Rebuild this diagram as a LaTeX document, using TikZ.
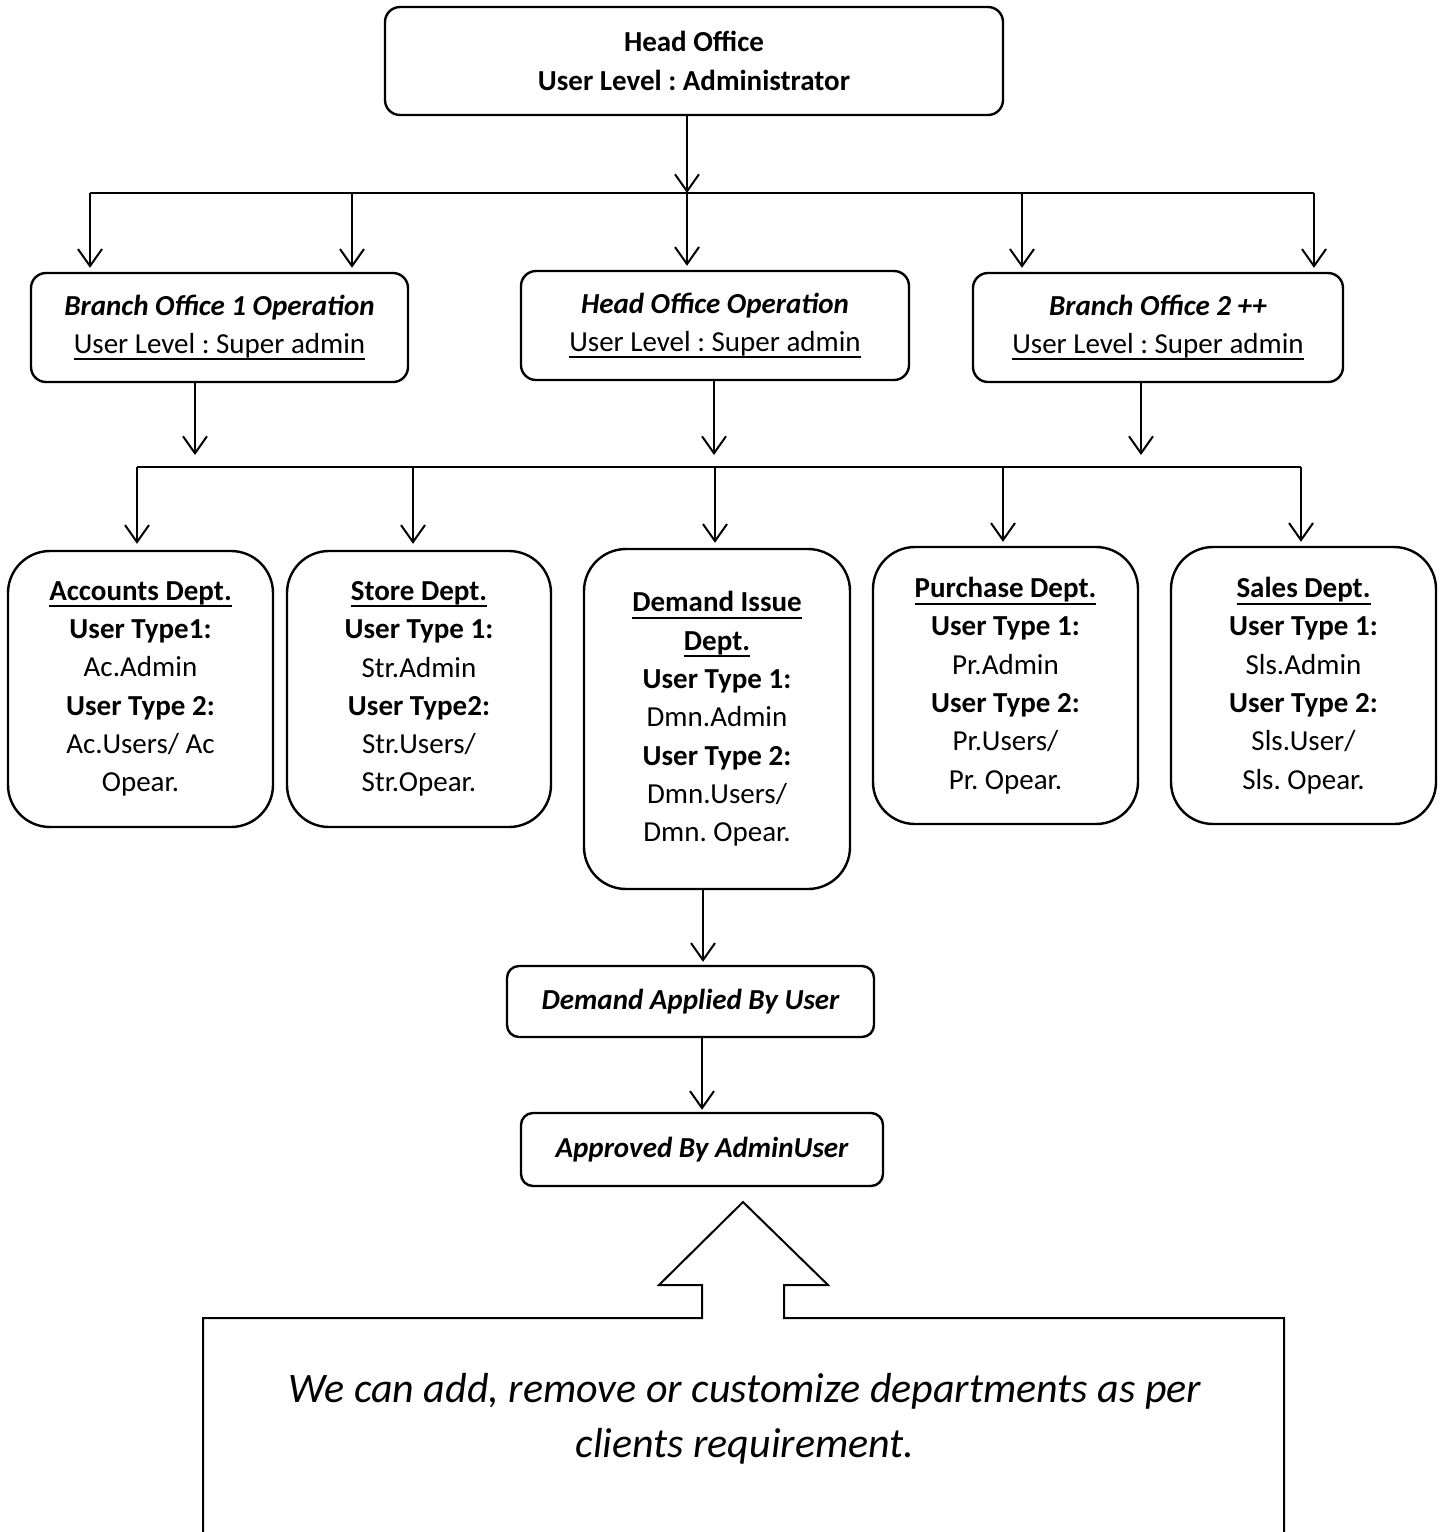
\documentclass[tikz,border=0pt]{standalone}
\usepackage{fontspec}
\setmainfont{Carlito}
\usetikzlibrary{arrows.meta,calc}
\newcommand{\fs}{\fontsize{29}{38.3}\selectfont\frenchspacing}
\newcommand{\myul}[1]{{\setbox0=\hbox{#1}\leavevmode\rlap{\vrule width \wd0 height -5pt depth 7pt}\box0}}
\begin{document}
\frenchspacing
\begin{tikzpicture}[x=1pt,y=-1pt,
  every node/.style={font=\fs},
  box/.style={draw, line width=2.4pt, rounded corners=15pt, align=center, inner sep=0pt},
  dept/.style={box, rounded corners=42pt, minimum width=265pt, minimum height=276pt},
  flowbox/.style={draw, line width=2.4pt, rounded corners=12pt, inner sep=0pt, font=\bfseries\itshape\fs},
  arr/.style={line width=2pt, -{Straight Barb[length=17pt,width=24pt]}},
  ln/.style={line width=2pt}]
\useasboundingbox (0,0) rectangle (1443,1532);
\fill[white] (0,0) rectangle (1443,1532);

% top level
\node[box, minimum width=618pt, minimum height=108pt, font=\bfseries\fs] (ho) at (694,61) {Head Office\\User Level : Administrator};

% branch level
\node[box, minimum width=377pt, minimum height=109pt] (b1) at (219.5,327.5) {\textbf{\textit{Branch Office 1 Operation}}\\\myul{User Level : Super admin}};
\node[box, minimum width=388pt, minimum height=109pt] (hoo) at (715,325.5) {\textbf{\textit{Head Office Operation}}\\\myul{User Level : Super admin}};
\node[box, minimum width=370pt, minimum height=109pt] (b2) at (1158,327.5) {\textbf{\textit{Branch Office 2 ++}}\\\myul{User Level : Super admin}};

% departments
\node[dept] (acc) at (140.5,689) {\myul{\textbf{Accounts Dept.}}\\\textbf{User Type1:}\\Ac.Admin\\\textbf{User Type 2:}\\Ac.Users/ Ac\\Opear.};
\node[dept, minimum width=264pt] (str) at (419,689) {\myul{\textbf{Store Dept.}}\\\textbf{User Type 1:}\\Str.Admin\\\textbf{User Type2:}\\Str.Users/\\Str.Opear.};
\node[dept, minimum width=266pt, minimum height=340pt] (dem) at (717,719) {\myul{\textbf{Demand Issue}}\\\myul{\textbf{Dept.}}\\\textbf{User Type 1:}\\Dmn.Admin\\\textbf{User Type 2:}\\Dmn.Users/\\Dmn. Opear.};
\node[dept, minimum height=277pt] (pur) at (1005.5,685.5) {\myul{\textbf{Purchase Dept.}}\\\textbf{User Type 1:}\\Pr.Admin\\\textbf{User Type 2:}\\Pr.Users/\\Pr. Opear.};
\node[dept, minimum height=277pt] (sal) at (1303.5,685.5) {\myul{\textbf{Sales Dept.}}\\\textbf{User Type 1:}\\Sls.Admin\\\textbf{User Type 2:}\\Sls.User/\\Sls. Opear.};

% flow
\node[flowbox, minimum width=367pt, minimum height=71pt] (da) at (690.5,1001.5) {Demand Applied By User\hspace{17pt}};
\node[flowbox, minimum width=362pt, minimum height=73pt] (ap) at (702,1149.5) {Approved By AdminUser\hspace{16pt}};

% callout
\draw[line width=2pt] (203,1545) -- (203,1318) -- (702,1318) -- (702,1285) -- (659,1285) -- (743,1202) -- (828,1285) -- (784,1285) -- (784,1318) -- (1284,1318) -- (1284,1545);
\node[font=\itshape\fontsize{42}{55}\selectfont, align=center] (note) at (745,1419) {We can add, remove or customize departments as per\\clients requirement.};

% connectors top tier
\coordinate (t1) at (90,193);
\coordinate (t2) at (352,193);
\coordinate (t3) at (687,193);
\coordinate (t4) at (1022,193);
\coordinate (t5) at (1314,193);
\draw[arr] (ho.south -| t3) -- (t3);
\draw[ln] (t1) -- (t5);
\draw[arr, shorten >=4pt] (t1) -- (t1 |- b1.north);
\draw[arr, shorten >=4pt] (t2) -- (t2 |- b1.north);
\draw[arr, shorten >=4pt] (t3) -- (t3 |- hoo.north);
\draw[arr, shorten >=4pt] (t4) -- (t4 |- b2.north);
\draw[arr, shorten >=4pt] (t5) -- (t5 |- b2.north);

% connectors second tier
\coordinate (s1) at (195,467);
\coordinate (s2) at (714,467);
\coordinate (s3) at (1141,467);
\draw[arr, shorten >=12pt] (b1.south -| s1) -- (s1);
\draw[arr, shorten >=12pt] (hoo.south -| s2) -- (s2);
\draw[arr, shorten >=12pt] (b2.south -| s3) -- (s3);
\coordinate (u1) at (137,467);
\coordinate (u2) at (413,467);
\coordinate (u3) at (715,467);
\coordinate (u4) at (1003,467);
\coordinate (u5) at (1301,467);
\draw[ln] (u1) -- (u5);
\draw[arr, shorten >=6pt] (u1) -- (u1 |- acc.north);
\draw[arr, shorten >=6pt] (u2) -- (u2 |- str.north);
\draw[arr, shorten >=5pt] (u3) -- (u3 |- dem.north);
\draw[arr, shorten >=4pt] (u4) -- (u4 |- pur.north);
\draw[arr, shorten >=4pt] (u5) -- (u5 |- sal.north);

% flow connectors
\draw[arr, shorten >=3pt] ([xshift=-14pt]dem.south) -- ([xshift=-14pt]dem.south |- da.north);
\draw[arr, shorten >=2pt] (ap.north |- da.south) -- (ap.north);
\end{tikzpicture}
\end{document}
